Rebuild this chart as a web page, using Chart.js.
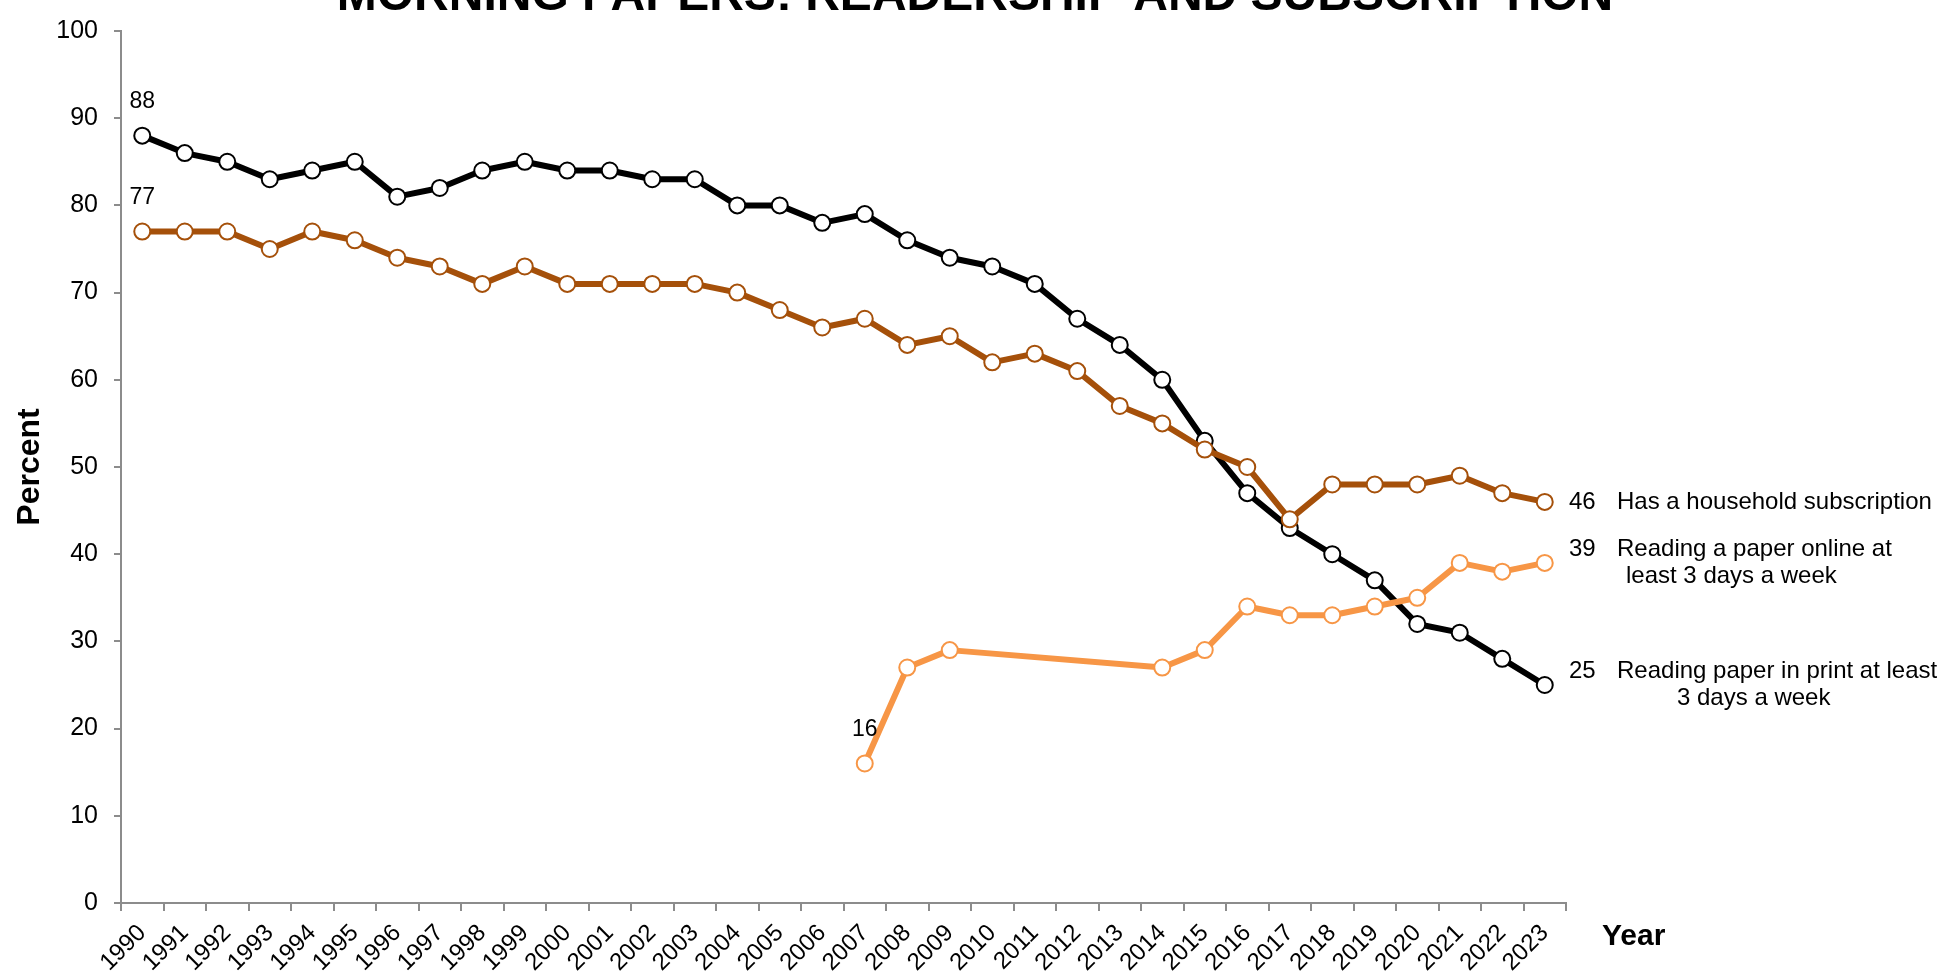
<!DOCTYPE html>
<html>
<head>
<meta charset="utf-8">
<script src="https://cdn.jsdelivr.net/npm/chart.js@4.4.1/dist/chart.umd.min.js"></script>
<style>
  html, body { margin: 0; padding: 0; background: #fff; }
  #wrap { width: 1959px; height: 978px; position: relative; }
</style>
</head>
<body>
<div id="wrap"><canvas id="chartLine"></canvas></div>
<script>
var years = ["1990", "1991", "1992", "1993", "1994", "1995", "1996", "1997", "1998", "1999",
    "2000", "2001", "2002", "2003", "2004", "2005", "2006", "2007", "2008", "2009",
    "2010", "2011", "2012", "2013", "2014", "2015", "2016", "2017", "2018", "2019",
    "2020", "2021", "2022", "2023"];

var printReaders = [88, 86, 85, 83, 84, 85, 81, 82, 84, 85,
    84, 84, 83, 83, 80, 80, 78, 79, 76, 74,
    73, 71, 67, 64, 60, 53, 47, 43, 40, 37,
    32, 31, 28, 25];

var subscription = [77, 77, 77, 75, 77, 76, 74, 73, 71, 73,
    71, 71, 71, 71, 70, 68, 66, 67, 64, 65,
    62, 63, 61, 57, 55, 52, 50, 44, 48, 48,
    48, 49, 47, 46];

var onlineReaders = [null, null, null, null, null, null, null, null, null, null,
    null, null, null, null, null, null, null, 16, 27, 29,
    null, null, null, null, 27, 29, 34, 33, 33, 34,
    35, 39, 38, 39];

var yTicks = [0, 10, 20, 30, 40, 50, 60, 70, 80, 90, 100];

var titleText = "MORNING PAPERS: READERSHIP AND SUBSCRIPTION";
var endLabels = [
    ["Has a household subscription"],
    ["Reading a paper online at", "least 3 days a week"],
    ["Reading paper in print at least", "3 days a week"]
];

var FONT = "'Liberation Sans', Arial, sans-serif";
var axisGray = "#8c8c8c";

// extra texts: title, "Year", value labels, labels at the line ends
var textPlugin = {
    id: "texts",
    afterDraw: function(chart) {
        var ctx = chart.ctx;
        ctx.save();
        ctx.fillStyle = "#000";

        ctx.font = "bold 48px " + FONT;
        ctx.textAlign = "center";
        ctx.textBaseline = "alphabetic";
        ctx.fillText(titleText, 975, 10);

        ctx.font = "bold 30px " + FONT;
        ctx.textAlign = "left";
        ctx.textBaseline = "middle";
        ctx.fillText("Year", 1602, 937);

        // first value of each series
        ctx.font = "23px " + FONT;
        ctx.textAlign = "center";
        var dsIdx = [0, 1, 2];
        dsIdx.forEach(function(d) {
            var meta = chart.getDatasetMeta(d);
            var vals = chart.data.datasets[d].data;
            for (let i = 0; i < vals.length; i++) {
                if (vals[i] !== null) {
                    var pt = meta.data[i];
                    ctx.fillText(String(vals[i]), pt.x, pt.y - 34);
                    break;
                }
            }
        });

        // last value + description at the right
        ctx.font = "24px " + FONT;
        ctx.textAlign = "left";
        var indents = [0, 9, 60];
        var lineH = 27;
        dsIdx.forEach(function(d) {
            var meta = chart.getDatasetMeta(d);
            var vals = chart.data.datasets[d].data;
            var last = vals.length - 1;
            var pt = meta.data[last];
            var lines = endLabels[d];
            var y0 = pt.y - (lines.length - 1) * lineH / 2;
            ctx.fillText(String(vals[last]), 1569, y0);
            for (let j = 0; j < lines.length; j++) {
                var ind = j === 0 ? 0 : indents[d];
                ctx.fillText(lines[j], 1617 + ind, y0 + j * lineH);
            }
        });
        ctx.restore();
    }
};

var ctx1 = document.getElementById("chartLine");
var myLineChart = new Chart(ctx1, {
    type: "line",
    data: {
        labels: years,
        datasets: [{
                label: "Has a household subscription",
                data: subscription,
                borderColor: "#A5500A",
                pointBorderColor: "#A5500A",
                order: 2,
            },
            {
                label: "Reading a paper online at least 3 days a week",
                data: onlineReaders,
                borderColor: "#F79646",
                pointBorderColor: "#F79646",
                spanGaps: true,
                order: 1,
            },
            {
                label: "Reading paper in print at least 3 days a week",
                data: printReaders,
                borderColor: "#000000",
                pointBorderColor: "#000000",
                order: 3,
            },
        ],
    },
    options: {
        responsive: true,
        maintainAspectRatio: false,
        devicePixelRatio: 1,
        animation: false,
        layout: {
            padding: { top: 20, right: 393, bottom: 0, left: 0 },
        },
        elements: {
            line: { borderWidth: 6, tension: 0, borderJoinStyle: "round" },
            point: { radius: 8, borderWidth: 2, backgroundColor: "#ffffff", hoverRadius: 8 },
        },
        plugins: {
            legend: { display: false },
            tooltip: { enabled: false },
            title: { display: false },
        },
        scales: {
            x: {
                type: "category",
                offset: true,
                afterFit: function(scale) { scale.height = 75; },
                grid: {
                    offset: true,
                    drawOnChartArea: false,
                    drawTicks: true,
                    tickLength: 8,
                    color: axisGray,
                    lineWidth: 2,
                },
                border: { display: true, color: axisGray, width: 2 },
                ticks: {
                    autoSkip: false,
                    maxRotation: 45,
                    minRotation: 45,
                    padding: 8,
                    color: "#000",
                    font: { family: FONT, size: 24 },
                },
            },
            y: {
                min: 0,
                max: 100,
                afterFit: function(scale) { scale.width = 121; },
                afterBuildTicks: function(scale) {
                    scale.ticks = yTicks.map(function(v) { return { value: v }; });
                },
                grid: {
                    drawOnChartArea: false,
                    drawTicks: true,
                    tickLength: 7,
                    color: axisGray,
                    lineWidth: 2,
                },
                border: { display: true, color: axisGray, width: 2 },
                ticks: {
                    padding: 16,
                    color: "#000",
                    font: { family: FONT, size: 25 },
                },
                title: {
                    display: true,
                    text: "Percent",
                    color: "#000",
                    font: { family: FONT, size: 32, weight: "bold" },
                    padding: { top: 11, bottom: 0 },
                },
            },
        },
    },
    plugins: [textPlugin],
});
</script>
</body>
</html>
